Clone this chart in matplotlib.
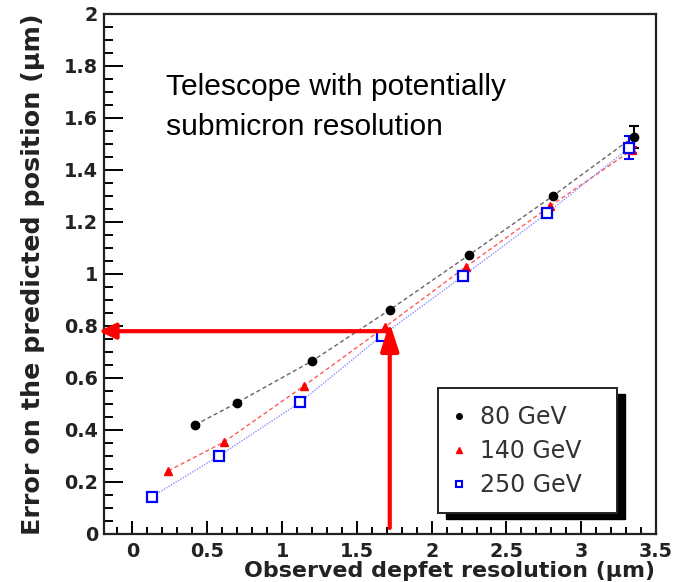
import numpy as np
import matplotlib
matplotlib.use("Agg")
import matplotlib.pyplot as plt
from matplotlib.lines import Line2D
from matplotlib.patches import Rectangle

# depfet resolution vs. error on the predicted position, per beam energy
x80 = [0.42, 0.70, 1.20, 1.72, 2.25, 2.81, 3.35]
y80 = [0.42, 0.505, 0.665, 0.862, 1.073, 1.30, 1.528]
e80 = [0, 0, 0, 0, 0, 0, 0.042]

x140 = [0.24, 0.61, 1.145, 1.69, 2.23, 2.79, 3.34]
y140 = [0.243, 0.353, 0.569, 0.797, 1.028, 1.26, 1.477]
e140 = [0, 0, 0, 0, 0, 0, 0.012]

x250 = [0.13, 0.58, 1.12, 1.665, 2.21, 2.77, 3.32]
y250 = [0.143, 0.301, 0.506, 0.762, 0.992, 1.233, 1.485]
e250 = [0, 0, 0, 0, 0, 0, 0.044]

labels = ["80 GeV", "140 GeV", "250 GeV"]
xticks = [0, 0.5, 1, 1.5, 2, 2.5, 3, 3.5]
xticklabels = ["0", "0.5", "1", "1.5", "2", "2.5", "3", "3.5"]
yticks = [0, 0.2, 0.4, 0.6, 0.8, 1, 1.2, 1.4, 1.6, 1.8, 2]
yticklabels = ["0", "0.2", "0.4", "0.6", "0.8", "1", "1.2", "1.4", "1.6", "1.8", "2"]

# working point marked by the arrows
x_sel = 1.72
y_sel = 0.78

fig = plt.figure(figsize=(6.75, 5.82), dpi=100)
ax = fig.add_axes([0.1541, 0.0825, 0.8178, 0.8935])

series = [
    (x80, y80, e80, "black", "#666666", (0, (3, 2)), "o", 6, "black"),
    (x140, y140, e140, "red", "#ff5a5a", (0, (3, 2)), "^", 6, "red"),
    (x250, y250, e250, "blue", "#8c8cff", (0, (1, 1)), "s", 7, "white"),
]
for xs, ys, es, c, lc, ls, m, ms, mfc in series:
    ax.plot(xs, ys, color=lc, ls=ls, lw=1, zorder=2)
    xs_a, ys_a, es_a = np.array(xs), np.array(ys), np.array(es)
    has_err = es_a > 0
    ax.errorbar(xs_a[has_err], ys_a[has_err], yerr=es_a[has_err], fmt="none",
                ecolor=c, elinewidth=1.5, capsize=3.5, capthick=1.5, zorder=3)
    ax.plot(xs, ys, ls="none", marker=m, ms=ms, color=c, mfc=mfc,
            mec=c, mew=1.6 if m == "s" else 1, zorder=4)

# red arrows
ax.annotate("", xy=(-0.225, y_sel), xytext=(x_sel, y_sel),
            arrowprops=dict(arrowstyle="-|>,head_length=1.0,head_width=0.47",
                            color="red", lw=3, shrinkA=0, shrinkB=0,
                            mutation_scale=10),
            annotation_clip=False, zorder=6)
ax.annotate("", xy=(x_sel, 0.813), xytext=(x_sel, 0.023),
            arrowprops=dict(arrowstyle="-|>,head_length=1.7,head_width=0.55",
                            color="red", lw=3, shrinkA=0, shrinkB=0,
                            mutation_scale=10),
            annotation_clip=False, zorder=6)

ax.text(0.225, 1.687, "Telescope with potentially", fontsize=21.6,
        family="Liberation Sans", va="baseline", ha="left")
ax.text(0.225, 1.533, "submicron resolution", fontsize=21.6,
        family="Liberation Sans", va="baseline", ha="left")

ax.set_xlim(-0.19, 3.49)
ax.set_ylim(0, 2)
ax.set_xticks(xticks)
ax.set_xticklabels(xticklabels)
ax.set_yticks(yticks)
ax.set_yticklabels(yticklabels)
ax.set_xticks(np.arange(-0.1, 3.45, 0.1), minor=True)
ax.set_yticks(np.arange(0, 2.01, 0.05), minor=True)

tick_font = dict(family="DejaVu Sans", weight="bold", size=13.8)
for lab in ax.get_xticklabels() + ax.get_yticklabels():
    lab.set_fontproperties(tick_font)
    lab.set_color("#222222")

ax.tick_params(axis="y", which="major", direction="in", length=13.7, width=1.4, pad=4.3)
ax.tick_params(axis="y", which="minor", direction="in", length=6.8, width=1.4)
ax.tick_params(axis="x", which="major", direction="in", length=9.4, width=1.4, pad=5.5)
ax.tick_params(axis="x", which="minor", direction="in", length=5, width=1.4)
for sp in ax.spines.values():
    sp.set_linewidth(1.6)
    sp.set_color("#222222")

ax.set_ylabel("Error on the predicted position (\u03bcm)", loc="top",
              fontsize=18.3, weight="bold", family="DejaVu Sans",
              color="#222222", va="baseline")
ax.yaxis.set_label_coords(-0.116, 1.0)
ax.set_xlabel("Observed depfet resolution (\u03bcm)", loc="right",
              fontsize=15.9, weight="bold", family="DejaVu Sans",
              color="#222222", va="baseline")
ax.xaxis.set_label_coords(0.998, -0.083)

# legend box with a solid drop shadow
bx, by, bw, bh = 0.6045, 0.0398, 0.3254, 0.2404
ax.add_patch(Rectangle((bx + 0.0145, by - 0.0115), bw, bh, transform=ax.transAxes,
                       facecolor="black", edgecolor="black", zorder=7))
ax.add_patch(Rectangle((bx, by), bw, bh, transform=ax.transAxes,
                       facecolor="white", edgecolor="#222222", lw=1.4, zorder=8))
handles = [
    Line2D([], [], ls="none", marker="o", ms=4, color="black"),
    Line2D([], [], ls="none", marker="^", ms=4, color="red"),
    Line2D([], [], ls="none", marker="s", ms=5, color="blue", mfc="white", mew=1.5),
]
leg = ax.legend(handles, labels, loc="center left", bbox_to_anchor=(0.630, 0.1596),
                frameon=False, borderpad=0, borderaxespad=0, handlelength=0.6,
                handletextpad=0.6, labelspacing=0.42,
                prop=dict(family="DejaVu Sans", size=17))
for t in leg.get_texts():
    t.set_color("#333333")
leg.set_zorder(9)

fig.savefig("out.png", dpi=100)
